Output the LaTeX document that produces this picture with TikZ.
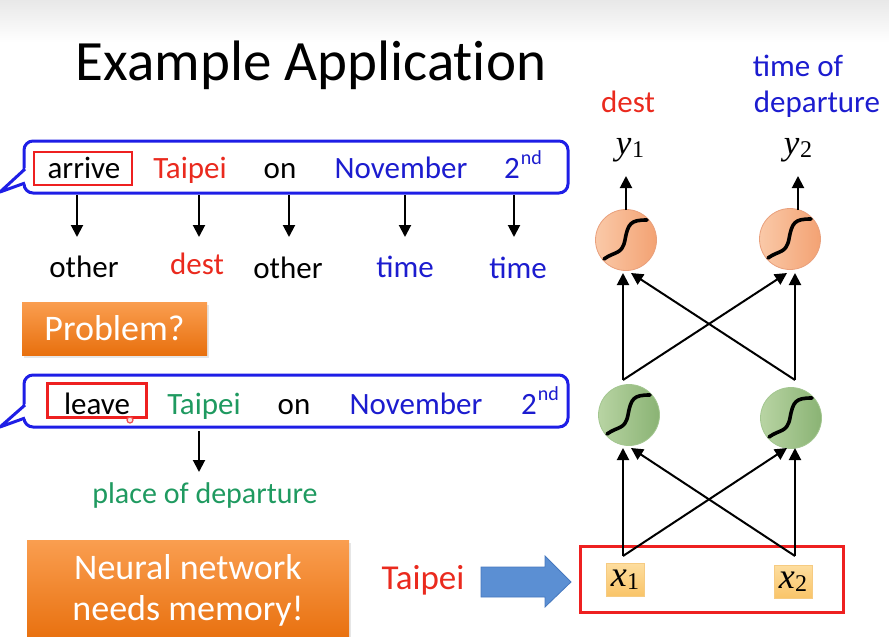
\documentclass[tikz,border=0pt]{standalone}
\usepackage{fontspec}
\setmainfont{Carlito}
\newfontfamily\tms{Liberation Serif}
\usetikzlibrary{arrows.meta,shadows}
\definecolor{wblue}{HTML}{1C1CCF}
\definecolor{wred}{HTML}{EA2A1E}
\definecolor{wgreen}{HTML}{1F9A60}
\definecolor{bubble}{HTML}{1E1EE6}
\definecolor{boxred}{HTML}{EE2020}
\definecolor{orT}{HTML}{FA9E50}
\definecolor{orB}{HTML}{E8700E}
\definecolor{peachL}{HTML}{FAC9A8}
\definecolor{peachR}{HTML}{F3A273}
\definecolor{peachD}{HTML}{E9A07C}
\definecolor{leafL}{HTML}{B8D4A3}
\definecolor{leafR}{HTML}{8AB374}
\definecolor{leafD}{HTML}{A3C690}
\definecolor{xT}{HTML}{FDDD9E}
\definecolor{xB}{HTML}{F9C468}
\definecolor{xD}{HTML}{F6CB82}
\definecolor{arrblue}{HTML}{5B8FD3}
\definecolor{arrblueD}{HTML}{4678BE}
\newcommand{\fs}[1]{\fontsize{#1}{#1}\selectfont}
\newcommand{\nd}{\kern1pt\raisebox{0.42em}{\fs{20}nd}}
\newcommand{\var}[3]{{\tms\fs{#3}\itshape #1}\kern0.5pt\raisebox{-0.28em}{\tms\fs{24}#2}}
\begin{document}
\begin{tikzpicture}[x=1pt,y=-1pt,
  word/.style={font=\fs{31}, inner sep=0pt, anchor=base},
  arr/.style={line width=2pt, -{Triangle[length=12pt,width=12pt]}},
  bubblebox/.style={draw=bubble, line width=3pt, rounded corners=9pt, fill=white, minimum width=544pt, minimum height=52pt, inner sep=0pt},
  hl/.style={draw=boxred, line width=2.5pt, fill=none, inner sep=0pt},
  orbox/.style={top color=orT, bottom color=orB, draw=none, text=white, align=center, inner sep=0pt,
     drop shadow={opacity=0.2, shadow xshift=1.5pt, shadow yshift=-2.5pt}},
  peach/.style={circle, minimum size=61pt, inner sep=0pt, left color=peachL, right color=peachR, draw=peachD, line width=0.8pt},
  leaf/.style={circle, minimum size=61pt, inner sep=0pt, left color=leafL, right color=leafR, draw=leafD, line width=0.8pt},
  xbox/.style={minimum width=38pt, minimum height=33pt, inner sep=0pt, top color=xT, bottom color=xB, draw=xD, line width=0.8pt},
  sigm/.style={line width=3.6pt, line cap=round}
]
\useasboundingbox (0,0) rectangle (889,637);
\shade[top color=black!9, bottom color=white] (0,0) rectangle (889,42);

% title
\node[font=\fs{57}\addfontfeatures{Ligatures=NoCommon}, inner sep=0pt, anchor=base] (title) at (311,80) {Example Application};

% ---------- first sentence ----------
\node[bubblebox] (b1) at (296,167) {};
\fill[white] (26,168) -- (0,192) -- (26,184) -- cycle;
\draw[bubble, line width=3pt, line join=round] (25,169) -- (0,192) -- (25,183);
\node[hl, minimum width=98pt, minimum height=33pt] (hl1) at (83,168.5) {};
\node[word] (w1) at (84,178) {arrive};
\node[word, text=wred] (w2) at (190,178) {Taipei};
\node[word] (w3) at (280,178) {on};
\node[word, text=wblue] (w4) at (401,178) {November};
\node[word, text=wblue] (w5) at (523,178) {2\nd};

\node[word] (l1) at (84,277) {other};
\node[word, text=wred] (l2) at (197,274) {dest};
\node[word] (l3) at (288,278) {other};
\node[word, text=wblue] (l4) at (405,277) {time};
\node[word, text=wblue] (l5) at (518,278) {time};

\foreach \i/\x in {1/77,2/199,3/289,4/405,5/514}{
  \coordinate (s\i) at (\x,195);
  \coordinate (e\i) at (\x,237);
  \draw[arr] (s\i) -- (e\i);
}

% Problem box
\node[orbox, minimum width=185pt, minimum height=53pt, font=\fs{36}] (prob) at (114.5,328.5) {Problem?};

% ---------- second sentence ----------
\node[bubblebox] (b2) at (296,401) {};
\fill[white] (26,404) -- (0,427) -- (26,419) -- cycle;
\draw[bubble, line width=3pt, line join=round] (25,405) -- (0,427) -- (25,418);
\node[hl, minimum width=99pt, minimum height=34pt] (hl2) at (97,400.5) {};
\node[word] (v1) at (97,414) {leave};
\node[word, text=wgreen] (v2) at (204,414) {Taipei};
\node[word] (v3) at (294,414) {on};
\node[word, text=wblue] (v4) at (416,414) {November};
\node[word, text=wblue] (v5) at (540,414) {2\nd};
\node[circle, draw=boxred!80, fill=boxred!15, line width=1.2pt, minimum size=6pt, inner sep=0pt] (cursor) at (130,420) {};

\coordinate (s6) at (199,431);
\coordinate (e6) at (199,472);
\draw[arr] (s6) -- (e6);
\node[word, font=\fs{30}, text=wgreen] (pod) at (205,503) {place of departure};

% Neural network box
\node[orbox, minimum width=322pt, minimum height=100pt, font=\fs{36}] (nn) at (188,590) {};
\node[text=white, font=\fs{36}, inner sep=0pt, anchor=base] (nn1) at (188,579) {Neural network};
\node[text=white, font=\fs{36}, inner sep=0pt, anchor=base] (nn2) at (188,620) {needs memory!};

% Taipei input + block arrow
\node[word, font=\fs{35}, text=wred] (tp) at (423,589) {Taipei};
\filldraw[fill=arrblue, draw=arrblueD, line width=0.8pt, line join=miter]
  (481,567) -- (545,567) -- (545,556) -- (571,582) -- (545,607) -- (545,597) -- (481,597) -- cycle;

% ---------- network ----------
\node[draw=boxred, line width=3pt, minimum width=263pt, minimum height=66pt, inner sep=0pt] (inbox) at (711.5,579) {};
\node[xbox] (x1) at (625,580) {\var{x}{1}{36}};
\node[xbox] (x2) at (793,582) {\var{x}{2}{36}};

\node[leaf] (h1) at (629,415) {};
\node[leaf] (h2) at (791,418) {};
\node[peach] (o1) at (626,240) {};
\node[peach] (o2) at (790,239) {};

\foreach \n in {h1,h2,o1,o2}{
  \begin{scope}[shift={(\n.center)}]
    \draw[sigm] (-22,19) .. controls (-11,11) and (-4,15) .. (-1,0) .. controls (2,-17) and (5,-20) .. (21,-20);
  \end{scope}
}

\coordinate (x1t) at (623,556);
\coordinate (x2t) at (795,556);
\coordinate (h1b) at (623,448);
\coordinate (h1bb) at (631,448);
\coordinate (h2b) at (795,448);
\coordinate (h2bb) at (787,448);
\draw[arr] (x1t) -- (h1b);
\draw[arr] (x1t) -- (h2bb);
\draw[arr] (x2t) -- (h2b);
\draw[arr] (x2t) -- (h1bb);

\coordinate (h1t) at (623,380);
\coordinate (h2t) at (795,380);
\coordinate (o1b) at (623,273);
\coordinate (o1bb) at (631,273);
\coordinate (o2b) at (795,273);
\coordinate (o2bb) at (787,273);
\draw[arr] (h1t) -- (o1b);
\draw[arr] (h1t) -- (o2bb);
\draw[arr] (h2t) -- (o2b);
\draw[arr] (h2t) -- (o1bb);

\coordinate (o1t) at (626,210);
\coordinate (o2t) at (798,210);
\coordinate (y1b) at (626,176);
\coordinate (y2b) at (798,176);
\draw[arr] (o1t) -- (y1b);
\draw[arr] (o2t) -- (y2b);

\node[inner sep=0pt] (y1) at (630,150) {\var{y}{1}{35}};
\node[inner sep=0pt] (y2) at (798,150) {\var{y}{2}{35}};
\node[word, font=\fs{31}, text=wred] (dest) at (628,112) {dest};
\node[word, font=\fs{31}, text=wblue] (tof) at (798,76) {time of};
\node[word, font=\fs{31}, text=wblue] (dep) at (817,112) {departure};
\end{tikzpicture}
\end{document}
